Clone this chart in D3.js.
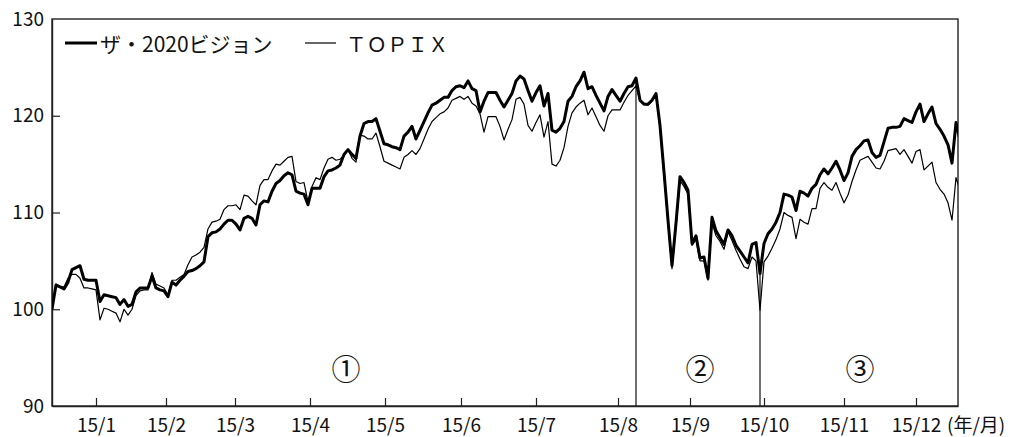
<!DOCTYPE html>
<html>
<head>
<meta charset="utf-8">
<script src="https://cdn.jsdelivr.net/npm/d3@7"></script>
<style>
  body { margin: 0; background: #fff; }
  svg { display: block; }
  text { font-family: "Noto Sans CJK JP", "Noto Sans", sans-serif; fill: #111; }
</style>
</head>
<body>
<svg id="chart"></svg>
<script>
// daily index values, both rebased to 100 at the start
const vision = [
  100.0,102.5,102.3,102.1,102.8,104.1,104.3,104.5,103.1,103.0,103.0,103.0,100.8,101.5,101.4,101.3,101.2,100.5,101.0,100.3,
  100.5,101.8,102.2,102.2,102.2,103.4,102.2,102.0,101.9,101.3,102.8,102.5,103.0,103.4,103.9,104.0,104.2,104.5,104.9,107.5,
  107.9,108.0,108.3,108.8,109.2,109.2,108.8,108.2,109.4,109.6,109.4,108.7,110.8,111.2,111.1,112.2,113.0,113.3,113.8,114.1,
  113.9,112.2,112.0,111.9,110.8,112.5,112.5,112.5,113.7,114.3,114.4,114.6,114.9,116.0,116.5,116.0,115.6,117.9,119.2,119.4,
  119.4,119.7,118.4,117.1,117.0,116.8,116.7,116.5,117.9,118.3,118.9,117.6,118.5,119.4,120.3,121.1,121.3,121.6,121.9,121.9,
  122.6,123.0,123.1,122.9,123.6,122.8,122.6,120.4,121.5,122.4,122.4,122.4,121.6,120.9,121.6,122.3,123.6,124.1,123.8,122.6,
  121.5,122.4,123.1,121.0,122.3,118.5,118.3,118.7,119.4,121.5,122.0,123.0,123.6,124.5,122.8,123.0,122.1,121.3,120.5,122.0,
  122.7,122.1,121.5,122.3,123.0,123.1,123.9,121.6,121.2,121.2,121.6,122.3,119.0,114.2,109.2,104.5,108.9,113.7,113.1,112.3,
  106.8,107.6,105.3,105.4,103.2,109.5,108.1,107.4,106.7,108.2,107.6,106.6,106.0,105.4,104.8,106.7,106.9,103.7,106.8,107.8,
  108.3,109.0,110.0,111.9,111.8,111.6,110.2,112.2,112.0,111.7,112.5,112.9,113.9,114.5,114.0,114.6,115.3,114.4,113.3,114.1,
  115.8,116.5,116.9,117.4,117.5,116.2,115.7,115.9,117.3,118.7,118.8,118.8,118.9,119.7,119.5,119.3,120.4,121.2,119.4,120.2,
  120.9,119.2,118.6,117.9,117.0,115.1,119.3,117.5
];
const topix = [
  100.0,102.6,102.4,102.3,103.2,103.6,103.6,103.2,102.2,102.2,102.1,102.0,98.9,100.1,100.0,99.8,99.6,98.7,100.0,99.4,
  100.0,101.4,101.9,102.0,102.0,103.8,102.6,102.4,102.2,101.5,103.0,103.0,103.3,103.6,104.6,105.4,105.6,105.9,106.4,108.3,
  109.0,109.1,109.3,110.3,110.7,110.7,110.8,110.3,111.8,111.7,111.2,110.8,112.8,113.4,113.4,114.3,115.0,114.9,115.3,115.7,
  115.8,113.2,113.0,113.1,111.1,112.7,113.6,113.4,114.6,115.5,115.7,115.4,115.5,115.9,116.5,115.6,115.2,118.0,117.9,117.6,
  117.6,118.2,116.8,115.3,115.1,114.9,114.7,114.5,115.7,116.0,116.4,116.0,116.6,117.6,118.6,119.4,119.8,120.2,120.4,120.8,
  121.6,121.8,122.0,121.7,122.0,121.3,121.0,120.2,118.3,119.9,119.9,119.9,118.9,117.5,118.6,119.6,121.7,121.9,121.2,119.0,
  118.4,119.3,120.1,117.8,119.4,115.0,114.8,115.4,116.7,118.9,120.3,120.9,121.3,121.6,120.1,120.8,119.9,119.0,118.4,120.0,
  120.6,120.6,120.6,121.4,122.1,122.6,123.1,121.5,121.2,121.1,121.5,122.2,118.7,113.8,108.8,104.2,108.5,113.3,112.7,111.9,
  106.6,107.2,105.0,105.0,103.0,108.9,107.6,107.0,106.2,108.0,107.1,106.1,105.2,104.4,104.2,105.4,105.0,99.9,104.9,105.5,
  106.3,107.2,108.3,110.0,109.7,109.5,107.3,109.3,109.0,108.8,110.4,110.4,112.5,113.1,112.6,112.3,113.1,112.0,111.0,111.8,
  113.2,114.4,115.4,115.6,115.8,115.2,114.6,114.5,115.3,116.4,116.5,116.6,116.0,116.5,115.8,115.1,116.3,116.5,114.4,114.8,
  115.2,113.1,112.4,111.9,111.0,109.2,113.6,112.3
];

// month ticks (position in trading-day index) and labels
const monthIdx = [11, 28.5, 45.75, 64.5, 83.25, 102.25, 121, 141.5, 159.5, 178, 198, 216];
const monthLabels = ["15/1","15/2","15/3","15/4","15/5","15/6","15/7","15/8","15/9","15/10","15/11","15/12"];
const yTicks = [90, 100, 110, 120, 130];

// phase boundaries and phase labels
const phaseBreaks = [146, 177];
const phaseLabels = ["①", "②", "③"];
const phaseMid = [73.5, 162, 202];

const width = 1013, height = 437;
const margin = { top: 19, right: 55, bottom: 31, left: 52 };

const svg = d3.select("#chart").attr("width", width).attr("height", height);

const x = d3.scaleLinear()
  .domain([0, 226.5])
  .range([margin.left, width - margin.right]);
const y = d3.scaleLinear()
  .domain([90, 130])
  .range([height - margin.bottom, margin.top]);

svg.append("clipPath").attr("id", "plot")
  .append("rect")
  .attr("x", margin.left).attr("y", margin.top)
  .attr("width", x.range()[1] - margin.left)
  .attr("height", y.range()[0] - margin.top);

// frame
svg.append("rect")
  .attr("x", margin.left).attr("y", margin.top)
  .attr("width", x.range()[1] - margin.left)
  .attr("height", y.range()[0] - margin.top)
  .attr("fill", "none")
  .attr("stroke", "#222")
  .attr("stroke-width", 1.4);

// x axis
const xAxis = svg.append("g")
  .attr("transform", `translate(0,${y(90)})`)
  .call(d3.axisBottom(x)
    .tickValues(monthIdx)
    .tickFormat((d, i) => monthLabels[i])
    .tickSizeInner(-8)
    .tickSizeOuter(0));
xAxis.select(".domain").attr("stroke", "#222").attr("stroke-width", 1.4);
xAxis.selectAll(".tick line").attr("stroke", "#222").attr("stroke-width", 1.2);
xAxis.selectAll(".tick text")
  .attr("y", 26).attr("dy", null)
  .style("font-size", "19px")
  .attr("fill", "#111");

svg.append("text")
  .attr("x", x(216) + 31)
  .attr("y", y(90) + 26)
  .style("font-size", "19px")
  .text("(年/月)");

// y axis
const yAxis = svg.append("g")
  .attr("transform", `translate(${margin.left},0)`)
  .call(d3.axisLeft(y)
    .tickValues(yTicks)
    .tickFormat(d3.format("d"))
    .tickSizeInner(-8)
    .tickSizeOuter(0)
    .tickPadding(8));
yAxis.select(".domain").attr("stroke", "#222").attr("stroke-width", 1.4);
yAxis.selectAll(".tick line")
  .attr("stroke", "#222").attr("stroke-width", 1.2)
  .attr("display", d => (d === 90 || d === 130) ? "none" : null);
yAxis.selectAll(".tick text")
  .style("font-size", "19px")
  .attr("fill", "#111");

// phase boundary lines
svg.append("g")
  .selectAll("line")
  .data(phaseBreaks)
  .join("line")
  .attr("x1", d => x(d)).attr("x2", d => x(d))
  .attr("y1", d => y(vision[d]))
  .attr("y2", y(90))
  .attr("stroke", "#222")
  .attr("stroke-width", 1.3);

// series
const line = d3.line()
  .x((d, i) => x(i))
  .y(d => y(d));

const lines = svg.append("g").attr("clip-path", "url(#plot)");
lines.append("path")
  .datum(topix)
  .attr("d", line)
  .attr("fill", "none")
  .attr("stroke", "#000")
  .attr("stroke-width", 1.2)
  .attr("stroke-linejoin", "round");
lines.append("path")
  .datum(vision)
  .attr("d", line)
  .attr("fill", "none")
  .attr("stroke", "#000")
  .attr("stroke-width", 3)
  .attr("stroke-linejoin", "round");

// phase labels
svg.append("g")
  .selectAll("text")
  .data(phaseLabels)
  .join("text")
  .attr("x", (d, i) => x(phaseMid[i]))
  .attr("y", y(94))
  .attr("text-anchor", "middle")
  .attr("dominant-baseline", "central")
  .style("font-size", "29px")
  .text(d => d);

// legend
const legend = svg.append("g");
legend.append("line")
  .attr("x1", 65).attr("x2", 97).attr("y1", 43).attr("y2", 43)
  .attr("stroke", "#000").attr("stroke-width", 3);
legend.append("text")
  .attr("x", 100).attr("y", 43)
  .attr("dominant-baseline", "central")
  .style("font-size", "21px")
  .text("ザ・2020ビジョン");
legend.append("line")
  .attr("x1", 305).attr("x2", 336).attr("y1", 43).attr("y2", 43)
  .attr("stroke", "#000").attr("stroke-width", 1.2);
legend.append("text")
  .attr("x", 346).attr("y", 43)
  .attr("dominant-baseline", "central")
  .style("font-size", "20.5px")
  .text("ＴＯＰＩＸ");
</script>
</body>
</html>
